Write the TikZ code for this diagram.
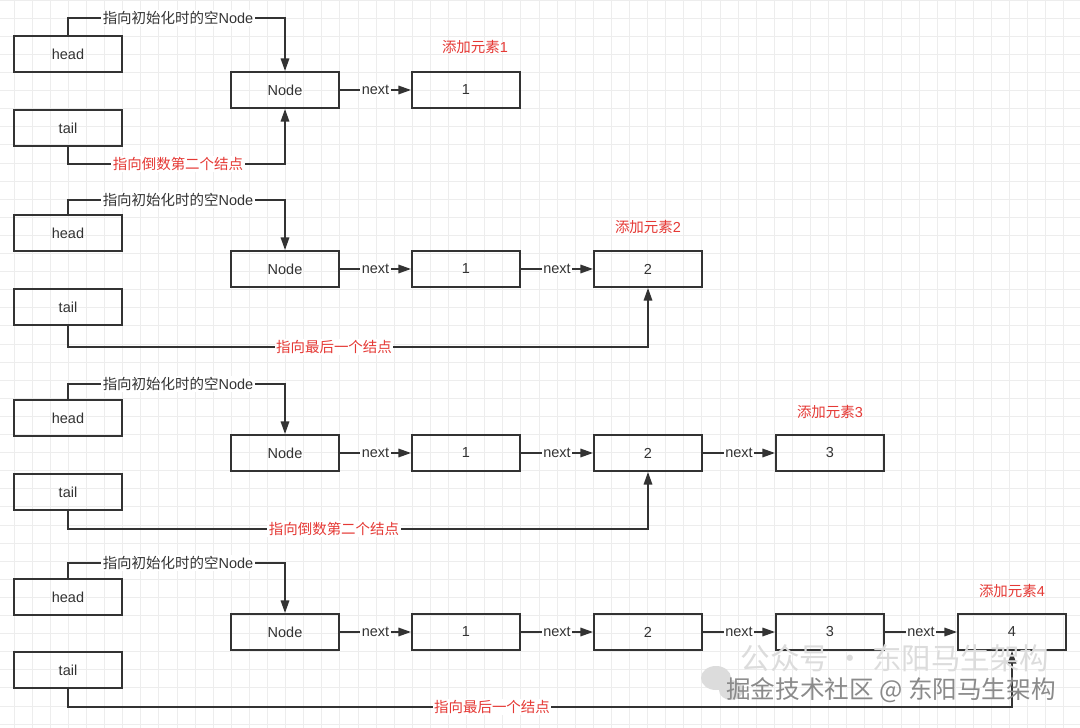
\documentclass[tikz,border=0pt]{standalone}
\usepackage{fontspec}
\setmainfont{Liberation Sans}
\newfontfamily\cjk{Noto Sans CJK SC}
\usetikzlibrary{arrows.meta}
\definecolor{ink}{HTML}{333333}
\definecolor{lblred}{HTML}{E53935}
\definecolor{gridc}{HTML}{EDEDED}
\definecolor{wmlight}{HTML}{DCDCDC}
\definecolor{wmdark}{HTML}{8A8A8A}
\begin{document}
\begin{tikzpicture}[x=0.025cm,y=-0.025cm,
  box/.style={draw=ink,line width=1.3pt,minimum width=2.7cm,minimum height=0.9cm,inner sep=0pt,font=\fontsize{10.3}{12}\selectfont,text=ink},
  link/.style={draw=ink,line width=1.3pt,-{Triangle[length=9pt,width=6pt]}},
  lbl/.style={fill=white,inner sep=1pt,font=\fontsize{10.3}{12}\selectfont,text=ink},
  rlbl/.style={lbl,text=lblred},
  title/.style={inner sep=1pt,font=\fontsize{10.3}{12}\selectfont,text=lblred},
  wmA/.style={inner sep=0pt,font=\cjk\fontsize{21}{24}\selectfont,text=wmlight},
  wmB/.style={inner sep=0pt,font=\cjk\fontsize{17.5}{20}\selectfont,text=wmdark}]
\useasboundingbox (0,0) rectangle (1080,728);
\fill[white] (0,0) rectangle (1080,728);
\begin{scope}
\clip (0,0) rectangle (1080,728);
\foreach \i in {-1,...,59} \draw[gridc,line width=0.5pt] ({14+18.1*\i},0) -- ({14+18.1*\i},728);
\foreach \j in {0,...,41} \draw[gridc,line width=0.5pt] (0,{18.1*\j}) -- (1080,{18.1*\j});
\end{scope}

% ---------- Row 1 ----------
\node[box] (h1) at (68,54) {head};
\node[box] (t1) at (68,128) {tail};
\node[box] (n1) at (285,90) {Node};
\node[box] (a1) at (466,90) {1};
\node[title] (ti1) at (475,47) {{\cjk 添加元素}1};
\coordinate (hk1) at (68,18); \coordinate (hm1) at (285,18);
\draw[link] (h1.north) -- (hk1) -- (hm1) -- (n1.north);
\node[lbl] (hl1) at (178,18) {{\cjk 指向初始化时的空}Node};
\coordinate (tk1) at (68,164); \coordinate (tm1) at (285,164);
\draw[link] (t1.south) -- (tk1) -- (tm1) -- (n1.south);
\node[rlbl] (tl1) at (178,164) {\cjk 指向倒数第二个结点};
\draw[link] (n1.east) -- node[lbl] (x11) {next} (a1.west);

% ---------- Row 2 ----------
\node[box] (h2) at (68,233) {head};
\node[box] (t2) at (68,307) {tail};
\node[box] (n2) at (285,269) {Node};
\node[box] (a2) at (466,269) {1};
\node[box] (b2) at (648,269) {2};
\node[title] (ti2) at (648,227) {{\cjk 添加元素}2};
\coordinate (hk2) at (68,200); \coordinate (hm2) at (285,200);
\draw[link] (h2.north) -- (hk2) -- (hm2) -- (n2.north);
\node[lbl] (hl2) at (178,200) {{\cjk 指向初始化时的空}Node};
\coordinate (tk2) at (68,347); \coordinate (tm2) at (648,347);
\draw[link] (t2.south) -- (tk2) -- (tm2) -- (b2.south);
\node[rlbl] (tl2) at (334,347) {\cjk 指向最后一个结点};
\draw[link] (n2.east) -- node[lbl] (x21) {next} (a2.west);
\draw[link] (a2.east) -- node[lbl] (x22) {next} (b2.west);

% ---------- Row 3 ----------
\node[box] (h3) at (68,418) {head};
\node[box] (t3) at (68,492) {tail};
\node[box] (n3) at (285,453) {Node};
\node[box] (a3) at (466,453) {1};
\node[box] (b3) at (648,453) {2};
\node[box] (c3) at (830,453) {3};
\node[title] (ti3) at (830,412) {{\cjk 添加元素}3};
\coordinate (hk3) at (68,384); \coordinate (hm3) at (285,384);
\draw[link] (h3.north) -- (hk3) -- (hm3) -- (n3.north);
\node[lbl] (hl3) at (178,384) {{\cjk 指向初始化时的空}Node};
\coordinate (tk3) at (68,529); \coordinate (tm3) at (648,529);
\draw[link] (t3.south) -- (tk3) -- (tm3) -- (b3.south);
\node[rlbl] (tl3) at (334,529) {\cjk 指向倒数第二个结点};
\draw[link] (n3.east) -- node[lbl] (x31) {next} (a3.west);
\draw[link] (a3.east) -- node[lbl] (x32) {next} (b3.west);
\draw[link] (b3.east) -- node[lbl] (x33) {next} (c3.west);

% ---------- Row 4 ----------
\node[box] (h4) at (68,597) {head};
\node[box] (t4) at (68,670) {tail};
\node[box] (n4) at (285,632) {Node};
\node[box] (a4) at (466,632) {1};
\node[box] (b4) at (648,632) {2};
\node[box] (c4) at (830,632) {3};
\node[box] (d4) at (1012,632) {4};
\node[title] (ti4) at (1012,591) {{\cjk 添加元素}4};
\coordinate (hk4) at (68,563); \coordinate (hm4) at (285,563);
\draw[link] (h4.north) -- (hk4) -- (hm4) -- (n4.north);
\node[lbl] (hl4) at (178,563) {{\cjk 指向初始化时的空}Node};
\coordinate (tk4) at (68,707); \coordinate (tm4) at (1012,707);
\draw[link] (t4.south) -- (tk4) -- (tm4) -- (d4.south);
\node[rlbl] (tl4) at (492,707) {\cjk 指向最后一个结点};
\draw[link] (n4.east) -- node[lbl] (x41) {next} (a4.west);
\draw[link] (a4.east) -- node[lbl] (x42) {next} (b4.west);
\draw[link] (b4.east) -- node[lbl] (x43) {next} (c4.west);
\draw[link] (c4.east) -- node[lbl] (x44) {next} (d4.west);

% ---------- Watermark ----------
\fill[wmlight] (716,678) ellipse [x radius=15, y radius=12];
\fill[wmlight] (731,690) ellipse [x radius=12, y radius=10];
\node[wmA] (wm1) at (895,658) {公众号 · 东阳马生架构};
\node[wmB] (wm2) at (891,690) {掘金技术社区 @ 东阳马生架构};
\end{tikzpicture}
\end{document}
